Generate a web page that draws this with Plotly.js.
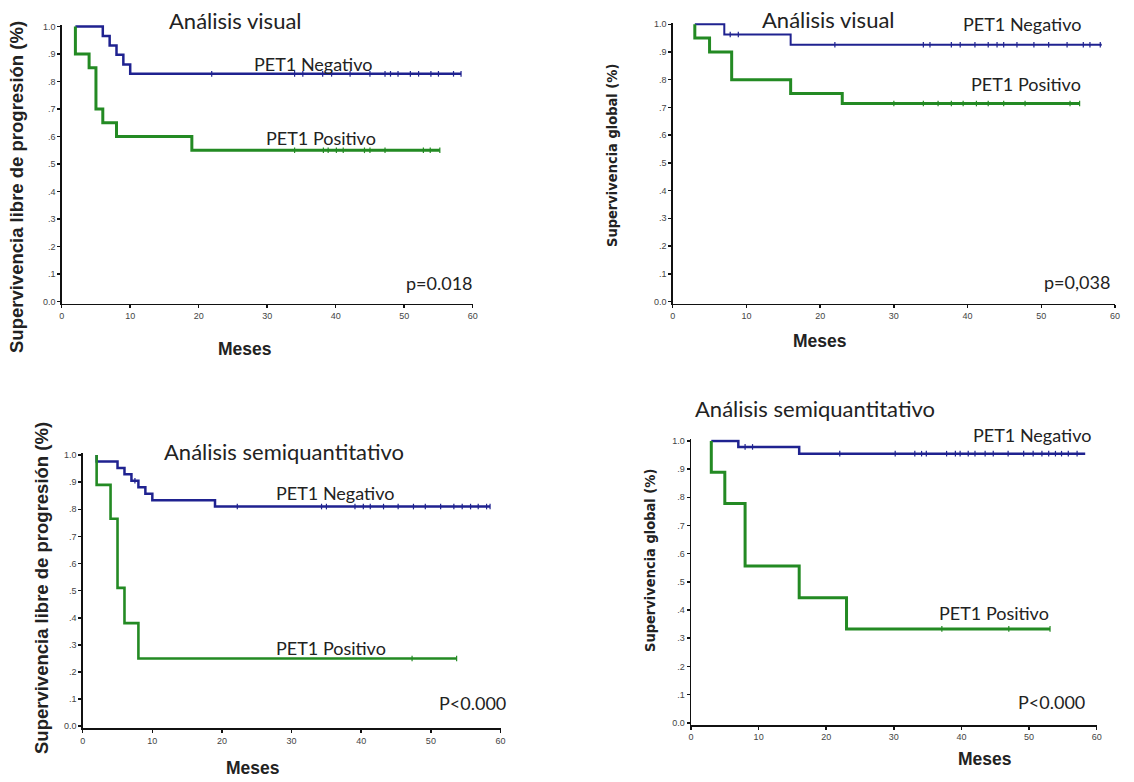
<!DOCTYPE html>
<html>
<head>
<meta charset="utf-8">
<script src="https://cdn.plot.ly/plotly-3.0.1.min.js"></script>
<style>
  html, body { margin: 0; padding: 0; background: #ffffff; }
  #chart { width: 1134px; height: 782px; }
</style>
</head>
<body>
<div id="chart"></div>
<script>
// Kaplan-Meier curves: time (months) where each step starts, survival after the step,
// and censoring times (drawn as small vertical ticks on the curve).

// Análisis visual – supervivencia libre de progresión
const visPfsNegTime = [2, 6, 7, 8, 9, 10, 58.3];
const visPfsNegSurv = [1.0, 0.966, 0.931, 0.897, 0.862, 0.828, 0.828];
const visPfsNegCens = [21.9, 34, 35.2, 38.1, 39.4, 42.1, 45, 47.2, 48, 49.1, 50.9, 52.1, 53.9, 55, 57.2, 58.3];
const visPfsPosTime = [2, 2, 4, 5, 6, 8, 19, 55.2];
const visPfsPosSurv = [1.0, 0.90, 0.85, 0.70, 0.65, 0.60, 0.55, 0.55];
const visPfsPosCens = [34, 38.2, 38.9, 40.1, 41.1, 44.2, 45, 47.2, 52.8, 53.8, 55.2];

// Análisis visual – supervivencia global
const visOsNegTime = [3, 7, 16, 58.2];
const visOsNegSurv = [1.0, 0.963, 0.926, 0.926];
const visOsNegCens = [7.8, 8.9, 22, 34, 34.9, 37.8, 39, 41, 42.8, 44, 44.9, 46.7, 49, 51, 53.5, 55.7, 56.6, 58];
const visOsPosTime = [3, 3, 5, 8, 16, 23, 55.2];
const visOsPosSurv = [1.0, 0.95, 0.90, 0.80, 0.75, 0.714, 0.714];
const visOsPosCens = [30, 34, 36, 37.8, 39.4, 41.2, 42.8, 44.9, 47.8, 53.9, 55.2];

// Análisis semiquantitativo – supervivencia libre de progresión
const semPfsNegTime = [2, 2, 5, 6, 7, 8, 9, 10, 19, 58.5];
const semPfsNegSurv = [1.0, 0.976, 0.952, 0.929, 0.905, 0.881, 0.857, 0.833, 0.81, 0.81];
const semPfsNegCens = [7.5, 22.2, 34.3, 35, 39.1, 40.3, 41.3, 43.2, 45.3, 47.5, 49.2, 51.4, 53.3, 54.5, 55.7, 56.8, 58, 58.5];
const semPfsPosTime = [2, 2, 4, 5, 6, 8, 53.7];
const semPfsPosSurv = [1.0, 0.89, 0.765, 0.51, 0.38, 0.25, 0.25];
const semPfsPosCens = [47.3, 53.7];

// Análisis semiquantitativo – supervivencia global
const semOsNegTime = [3, 7, 16, 58.3];
const semOsNegSurv = [1.0, 0.979, 0.955, 0.955];
const semOsNegCens = [8, 9.1, 22, 30.2, 33.1, 34.1, 34.8, 37.8, 39.1, 39.8, 41, 42, 43.5, 44.7, 46.9, 49.2, 50.6, 51.9, 52.9, 53.9, 54.8, 55.8, 57.1];
const semOsPosTime = [3, 3, 5, 8, 16, 23, 53.1];
const semOsPosSurv = [1.0, 0.889, 0.778, 0.556, 0.444, 0.333, 0.333];
const semOsPosCens = [37.1, 47, 53.1];

// Axis ticks
const xTickVals = [0, 10, 20, 30, 40, 50, 60];
const xTickText = ['0', '10', '20', '30', '40', '50', '60'];
const yTickVals = [0, 0.1, 0.2, 0.3, 0.4, 0.5, 0.6, 0.7, 0.8, 0.9, 1.0];
const yTickText = ['0.0', '.1', '.2', '.3', '.4', '.5', '.6', '.7', '.8', '.9', '1.0'];

// Labels
const groupNeg = 'PET1 Negativo';
const groupPos = 'PET1 Positivo';
const titleVisual = 'Análisis visual';
const titleSemi = 'Análisis semiquantitativo';
const yTitlePfs = 'Supervivencia libre de progresión (%)';
const yTitleOs = 'Supervivencia global (%)';
const xTitle = 'Meses';
const pValues = ['p=0.018', 'p=0,038', 'P<0.000', 'P<0.000'];

const BLUE = '#1f2290';
const GREEN = '#238a23';
const W = 1134, H = 782;
const TEXT_FONT = 'Lato, "Open Sans", "Noto Sans", sans-serif';
const AXIS_FONT = '"Liberation Sans", Arial, sans-serif';
const NARROW_FONT = '"Liberation Sans Narrow", "DejaVu Sans Condensed", "Liberation Sans", sans-serif';

// survival value of a step curve at time t
function survAt(times, surv, t) {
  let s = surv[0];
  for (let i = 0; i < times.length; i++) {
    if (times[i] <= t) s = surv[i]; else break;
  }
  return s;
}

function curve(times, surv, cens, color, width, ax) {
  const line = {
    x: times, y: surv, type: 'scatter', mode: 'lines',
    line: { color: color, width: width, shape: 'hv' },
    xaxis: ax.x, yaxis: ax.y, hoverinfo: 'skip'
  };
  const marks = {
    x: cens, y: cens.map(t => survAt(times, surv, t)), type: 'scatter', mode: 'markers',
    marker: { symbol: 'line-ns', size: 4, color: color, line: { color: color, width: 1.2 } },
    xaxis: ax.x, yaxis: ax.y, hoverinfo: 'skip', cliponaxis: false
  };
  return [line, marks];
}

const panels = [
  { ax: { x: 'x', y: 'y' }, neg: [visPfsNegTime, visPfsNegSurv, visPfsNegCens], pos: [visPfsPosTime, visPfsPosSurv, visPfsPosCens], wNeg: 2.5, wPos: 3 },
  { ax: { x: 'x2', y: 'y2' }, neg: [visOsNegTime, visOsNegSurv, visOsNegCens], pos: [visOsPosTime, visOsPosSurv, visOsPosCens], wNeg: 2, wPos: 3 },
  { ax: { x: 'x3', y: 'y3' }, neg: [semPfsNegTime, semPfsNegSurv, semPfsNegCens], pos: [semPfsPosTime, semPfsPosSurv, semPfsPosCens], wNeg: 2.5, wPos: 2.6 },
  { ax: { x: 'x4', y: 'y4' }, neg: [semOsNegTime, semOsNegSurv, semOsNegCens], pos: [semOsPosTime, semOsPosSurv, semOsPosCens], wNeg: 2.5, wPos: 3 }
];

const data = [];
panels.forEach(p => {
  data.push(...curve(p.neg[0], p.neg[1], p.neg[2], BLUE, p.wNeg, p.ax));
  data.push(...curve(p.pos[0], p.pos[1], p.pos[2], GREEN, p.wPos, p.ax));
});

// pixel box -> paper domain
const dx = (l, r) => [l / W, r / W];
const dy = (top, bottom) => [1 - bottom / H, 1 - top / H];

function xAxis(domain, anchor) {
  return {
    domain: domain, anchor: anchor, range: [0, 60], tickvals: xTickVals, ticktext: xTickText,
    showline: true, linecolor: '#111', linewidth: 1.5, ticks: 'outside', ticklen: 3, tickwidth: 1.5,
    tickcolor: '#111', showgrid: false, zeroline: false, fixedrange: true,
    tickfont: { family: AXIS_FONT, size: 9, color: '#444' }
  };
}
function yAxis(domain, anchor) {
  return {
    domain: domain, anchor: anchor, range: [-0.008, 1.006], tickvals: yTickVals, ticktext: yTickText,
    showline: true, linecolor: '#111', linewidth: 1.5, ticks: 'outside', ticklen: 3, tickwidth: 1.5,
    tickcolor: '#111', showgrid: false, zeroline: false, fixedrange: true,
    tickfont: { family: AXIS_FONT, size: 9, color: '#444' }
  };
}

function note(text, px, py, size, opts) {
  return Object.assign({
    text: text, xref: 'paper', yref: 'paper', x: px / W, y: 1 - py / H,
    xanchor: 'center', yanchor: 'middle', showarrow: false,
    font: { family: TEXT_FONT, size: size, color: '#222' }
  }, opts || {});
}
const bold = (s) => '<b>' + s + '</b>';
const mesesFont = { family: AXIS_FONT, size: 17.5, color: '#222' };
const pfsFont = { family: AXIS_FONT, size: 18.5, color: '#222' };
const osFont = { family: NARROW_FONT, size: 14.5, color: '#222' };

const annotations = [
  // top-left
  note(titleVisual, 235, 21, 22),
  note(groupNeg, 313, 64, 18),
  note(groupPos, 321, 138, 18),
  note(pValues[0], 439, 283, 18),
  note(bold(xTitle), 245, 349, 17, { font: mesesFont }),
  note(bold(yTitlePfs), 17, 187, 15, { textangle: -90, font: pfsFont }),
  // top-right
  note(titleVisual, 828, 19, 22),
  note(groupNeg, 1022, 24, 18),
  note(groupPos, 1026, 84, 18),
  note(pValues[1], 1077, 282, 18),
  note(bold(xTitle), 820, 341, 17, { font: mesesFont }),
  note(bold(yTitleOs), 612, 156, 14, { textangle: -90, font: osFont }),
  // bottom-left
  note(titleSemi, 284, 452, 22),
  note(groupNeg, 335, 493, 18),
  note(groupPos, 331, 648, 18),
  note(pValues[2], 472, 703, 18),
  note(bold(xTitle), 253, 768, 17, { font: mesesFont }),
  note(bold(yTitlePfs), 41, 588, 15, { textangle: -90, font: pfsFont }),
  // bottom-right
  note(titleSemi, 815, 409, 22),
  note(groupNeg, 1032, 435, 18),
  note(groupPos, 994, 613, 18),
  note(pValues[3], 1051, 702, 18),
  note(bold(xTitle), 985, 759, 17, { font: mesesFont }),
  note(bold(yTitleOs), 650, 561, 14, { textangle: -90, font: osFont })
];

const layout = {
  width: W, height: H,
  margin: { l: 0, r: 0, t: 0, b: 0 },
  paper_bgcolor: '#ffffff', plot_bgcolor: '#ffffff',
  showlegend: false,
  xaxis: xAxis(dx(61.7, 472.7), 'y'),
  yaxis: yAxis(dy(24.9, 303.7), 'x'),
  xaxis2: xAxis(dx(672.7, 1115), 'y2'),
  yaxis2: yAxis(dy(22.6, 303.7), 'x2'),
  xaxis3: xAxis(dx(82.7, 500.5), 'y3'),
  yaxis3: yAxis(dy(453.4, 728.4), 'x3'),
  xaxis4: xAxis(dx(691, 1096.7), 'y4'),
  yaxis4: yAxis(dy(439.3, 725), 'x4'),
  annotations: annotations
};

Plotly.newPlot('chart', data, layout, { displayModeBar: false, staticPlot: true });
</script>
</body>
</html>
